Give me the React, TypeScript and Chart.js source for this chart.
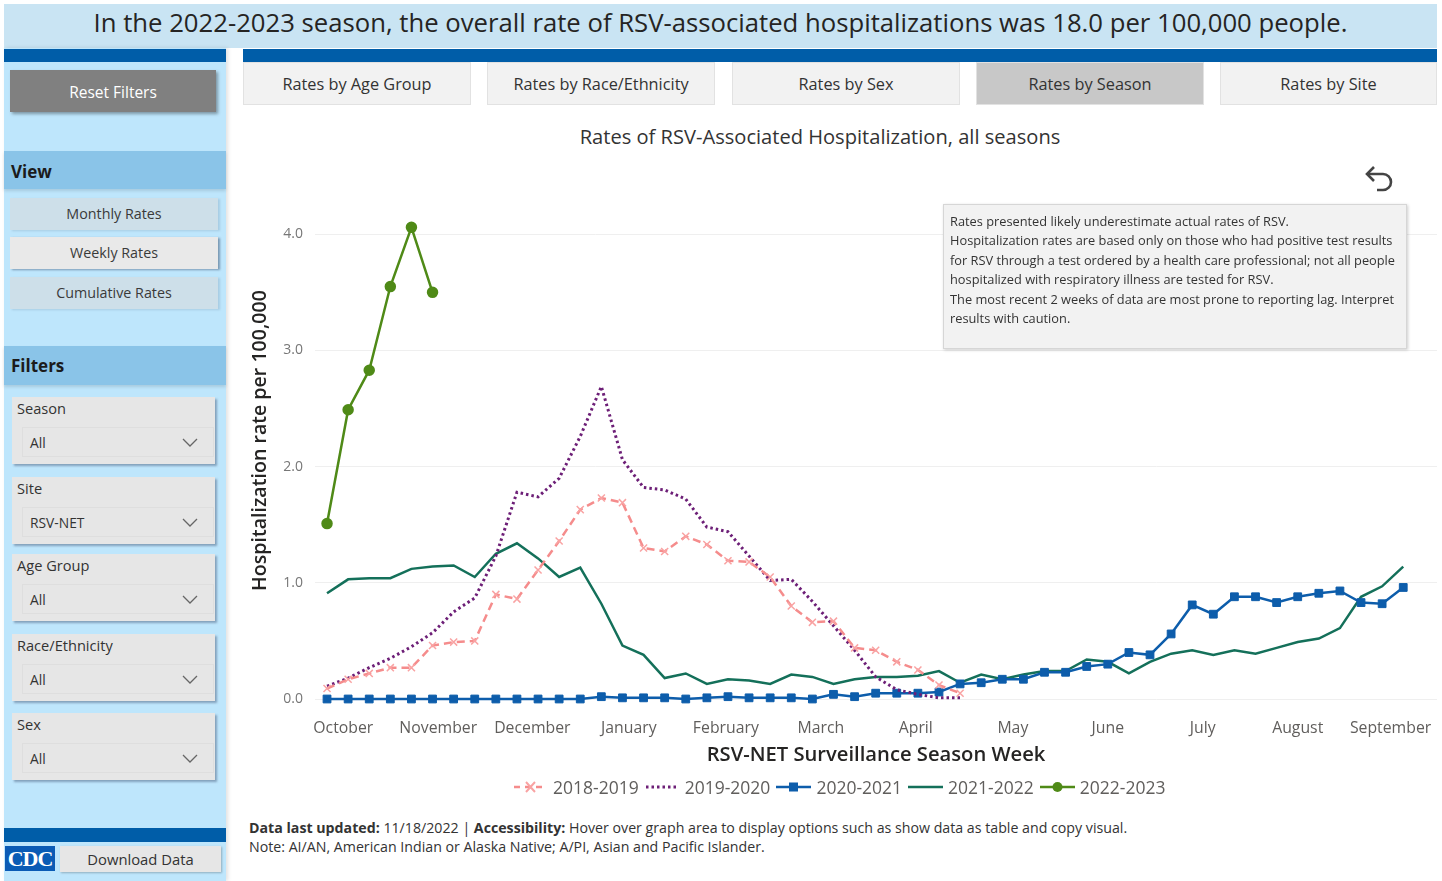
import React, { useEffect, useRef } from "react";
import { Chart, registerables } from "chart.js";

Chart.register(...registerables);

const FONT = "'Open Sans', 'Noto Sans', sans-serif";

// Season week index (1 = first surveillance week of October)
const seasonWeeks = Array.from({ length: 52 }, (_, i) => i + 1);

const monthLabels = [
  "October", "November", "December", "January", "February", "March",
  "April", "May", "June", "July", "August", "September",
];
// position of each month label, in season-week units
const monthTickWeeks = [1.77, 6.27, 10.73, 15.3, 19.9, 24.4, 28.9, 33.5, 38.0, 42.5, 47.0, 51.4];
const yTickValues = [0, 1, 2, 3, 4];

const seasonNames = ["2018-2019", "2019-2020", "2020-2021", "2021-2022", "2022-2023"];

const rates2018_19 = [
  0.09, 0.17, 0.22, 0.27, 0.27, 0.46, 0.49, 0.50, 0.90, 0.86, 1.11, 1.36, 1.63, 1.73, 1.69,
  1.30, 1.27, 1.40, 1.33, 1.19, 1.18, 1.05, 0.80, 0.66, 0.67, 0.44, 0.42, 0.32, 0.25, 0.12, 0.05,
];
const rates2019_20 = [
  0.11, 0.18, 0.27, 0.35, 0.45, 0.57, 0.75, 0.87, 1.23, 1.78, 1.74, 1.90, 2.26, 2.69, 2.06,
  1.82, 1.80, 1.72, 1.48, 1.44, 1.23, 1.02, 1.03, 0.84, 0.63, 0.42, 0.19, 0.08, 0.04, 0.01, 0.01,
];
const rates2020_21 = [
  0.00, 0.00, 0.00, 0.00, 0.00, 0.00, 0.00, 0.00, 0.00, 0.00, 0.00, 0.00, 0.00, 0.02, 0.01,
  0.01, 0.01, 0.00, 0.01, 0.02, 0.01, 0.01, 0.01, 0.00, 0.04, 0.02, 0.05, 0.05, 0.05, 0.06,
  0.13, 0.14, 0.17, 0.17, 0.23, 0.23, 0.28, 0.30, 0.40, 0.38, 0.56, 0.81, 0.73, 0.88, 0.88,
  0.83, 0.88, 0.91, 0.93, 0.83, 0.82, 0.96,
];
const rates2021_22 = [
  0.91, 1.03, 1.04, 1.04, 1.12, 1.14, 1.15, 1.05, 1.25, 1.34, 1.21, 1.05, 1.13, 0.82, 0.46,
  0.38, 0.18, 0.22, 0.13, 0.17, 0.16, 0.13, 0.21, 0.19, 0.13, 0.17, 0.19, 0.19, 0.20, 0.24,
  0.14, 0.21, 0.17, 0.21, 0.24, 0.24, 0.34, 0.32, 0.22, 0.32, 0.39, 0.42, 0.38, 0.42, 0.39,
  0.44, 0.49, 0.52, 0.61, 0.88, 0.97, 1.14,
];
const rates2022_23 = [1.51, 2.49, 2.83, 3.55, 4.06, 3.50];

const seriesColors = ["#f58c8c", "#6d1f77", "#0d5dab", "#14705a", "#4f8a17"];

const tabs = ["Rates by Age Group", "Rates by Race/Ethnicity", "Rates by Sex", "Rates by Season", "Rates by Site"];
const viewButtons = ["Monthly Rates", "Weekly Rates", "Cumulative Rates"];
const filterNames = ["Season", "Site", "Age Group", "Race/Ethnicity", "Sex"];
const filterValues = ["All", "RSV-NET", "All", "All", "All"];

const noteLines = [
  "Rates presented likely underestimate actual rates of RSV.",
  "Hospitalization rates are based only on those who had positive test results",
  "for RSV through a test ordered by a health care professional; not all people",
  "hospitalized with respiratory illness are tested for RSV.",
  "The most recent 2 weeks of data are most prone to reporting lag. Interpret",
  "results with caution.",
];

function RsvChart() {
  const ref = useRef<HTMLCanvasElement | null>(null);
  useEffect(() => {
    if (!ref.current) return;
    const chart = new Chart(ref.current, {
      type: "line",
      data: {
        labels: seasonWeeks,
        datasets: [
          {
            label: seasonNames[0], data: rates2018_19, borderColor: seriesColors[0],
            borderWidth: 2.5, borderDash: [8, 5], pointStyle: "crossRot", pointRadius: 5,
            pointBorderColor: "#f9a3a3", pointBorderWidth: 1.5, pointBackgroundColor: "#f9a3a3",
            clip: false, tension: 0,
          },
          {
            label: seasonNames[1], data: rates2019_20, borderColor: seriesColors[1],
            borderWidth: 3, borderDash: [2.5, 3], pointRadius: 0, clip: false, tension: 0,
          },
          {
            label: seasonNames[2], data: rates2020_21, borderColor: seriesColors[2],
            borderWidth: 2.5, pointStyle: "rect", pointRadius: 5.5,
            pointBackgroundColor: seriesColors[2], pointBorderColor: seriesColors[2],
            pointBorderWidth: 1, clip: false, tension: 0,
          },
          {
            label: seasonNames[3], data: rates2021_22, borderColor: seriesColors[3],
            borderWidth: 2.5, pointRadius: 0, clip: false, tension: 0,
          },
          {
            label: seasonNames[4], data: rates2022_23, borderColor: seriesColors[4],
            borderWidth: 2.5, pointStyle: "circle", pointRadius: 4.5,
            pointBackgroundColor: seriesColors[4], pointBorderColor: seriesColors[4],
            clip: false, tension: 0,
          },
        ],
      },
      options: {
        animation: false,
        responsive: false,
        maintainAspectRatio: false,
        layout: { autoPadding: false, padding: { top: 22, left: 0, right: 0, bottom: 0 } },
        plugins: { legend: { display: false }, tooltip: { enabled: false }, title: { display: false } },
        scales: {
          x: {
            type: "linear",
            min: 0.43,
            max: 53.6,
            grid: { display: false, drawTicks: true, tickLength: 20 },
            border: { display: false },
            afterBuildTicks: (scale: any) => {
              scale.ticks = monthTickWeeks.map((v) => ({ value: v }));
            },
            afterFit: (scale: any) => {
              scale.height = 81;
              scale.paddingLeft = 0;
              scale.paddingRight = 0;
            },
            ticks: {
              autoSkip: false,
              maxRotation: 0,
              padding: 0,
              color: "#605e5c",
              font: { family: FONT, size: 15.8 },
              callback: (_v: any, i: number) => monthLabels[i],
            },
            title: {
              display: true,
              text: "RSV-NET Surveillance Season Week",
              color: "#252423",
              font: { family: FONT, size: 20.2, weight: "600" },
              padding: { top: 4, bottom: 13 },
            },
          },
          y: {
            min: 0,
            max: 4.45,
            grid: { color: "#efefef", lineWidth: 1, drawTicks: false },
            border: { display: false },
            afterBuildTicks: (scale: any) => {
              scale.ticks = yTickValues.map((v) => ({ value: v }));
            },
            afterFit: (scale: any) => {
              scale.width = 72;
            },
            ticks: {
              padding: 12,
              color: "#777777",
              font: { family: FONT, size: 14 },
              callback: (v: any) => Number(v).toFixed(1),
            },
            title: {
              display: true,
              text: "Hospitalization rate per 100,000",
              color: "#252423",
              font: { family: FONT, size: 19.6, weight: "600" },
              padding: { top: 6, bottom: 4 },
            },
          },
        },
      },
    });
    return () => chart.destroy();
  }, []);
  return (
    <canvas
      ref={ref}
      width={1194}
      height={620}
      style={{ position: "absolute", left: 243, top: 160, width: 1194, height: 620 }}
    />
  );
}

function LegendSymbol({ idx }: { idx: number }) {
  const c = seriesColors[idx];
  const w = 35;
  const h = 14;
  const y = 7;
  if (idx === 0)
    return (
      <svg width={w} height={h}>
        <line x1={1} y1={y} x2={34} y2={y} stroke={c} strokeWidth={2.5} strokeDasharray="6 5" />
        <path d="M13 2 L22 12 M22 2 L13 12" stroke="#f9a3a3" strokeWidth={2} />
      </svg>
    );
  if (idx === 1)
    return (
      <svg width={w} height={h}>
        <line x1={1} y1={y} x2={34} y2={y} stroke={c} strokeWidth={3} strokeDasharray="2.5 3" />
      </svg>
    );
  if (idx === 2)
    return (
      <svg width={w} height={h}>
        <line x1={0} y1={y} x2={35} y2={y} stroke={c} strokeWidth={2.5} />
        <rect x={13} y={2.5} width={9} height={9} fill={c} />
      </svg>
    );
  if (idx === 3)
    return (
      <svg width={w} height={h}>
        <line x1={0} y1={y} x2={35} y2={y} stroke={c} strokeWidth={2.5} />
      </svg>
    );
  return (
    <svg width={w} height={h}>
      <line x1={0} y1={y} x2={35} y2={y} stroke={c} strokeWidth={2.5} />
      <circle cx={17.5} cy={y} r={5} fill={c} />
    </svg>
  );
}

function Chevron({ x, y }: { x: number; y: number }) {
  return (
    <svg width={16} height={10} style={{ position: "absolute", left: x, top: y }}>
      <path d="M1 1 L8 8 L15 1" fill="none" stroke="#666" strokeWidth={1.3} />
    </svg>
  );
}

export default function App() {
  const filterTops = [397, 477, 554, 634, 713];
  const viewTops = [198, 237, 277];
  const tabLefts = [243, 487, 732, 976, 1220];
  return (
    <div
      style={{
        position: "absolute", left: 0, top: 0, width: 1442, height: 881, background: "#ffffff",
        fontFamily: FONT, overflow: "hidden", color: "#252423",
      }}
    >
      {/* header */}
      <div
        style={{
          position: "absolute", left: 4, top: 4, width: 1433, height: 44, background: "#c9e4f3",
          fontSize: 25.7, lineHeight: "38px", textAlign: "center", color: "#252423", whiteSpace: "nowrap",
        }}
      >
        In the 2022-2023 season, the overall rate of RSV-associated hospitalizations was 18.0 per 100,000 people.
      </div>

      {/* sidebar */}
      <div style={{ position: "absolute", left: 4, top: 48, width: 222, height: 833, background: "#bee6fc", boxShadow: "2px 0 4px rgba(0,0,0,0.12)" }} />
      <div style={{ position: "absolute", left: 4, top: 49, width: 222, height: 13, background: "#005da8" }} />
      <div
        style={{
          position: "absolute", left: 10, top: 70, width: 206, height: 42, background: "#808080",
          color: "#fff", fontSize: 15.5, lineHeight: "44px", textAlign: "center",
          boxShadow: "2px 2px 3px rgba(0,0,0,0.35)",
        }}
      >
        Reset Filters
      </div>
      <div style={{ position: "absolute", left: 4, top: 151, width: 222, height: 38, background: "#8ac4e8", boxShadow: "0 2px 3px rgba(0,0,0,0.12)" }} />
      <div style={{ position: "absolute", left: 11, top: 160, fontSize: 17, fontWeight: 700, color: "#1b1b1b" }}>View</div>
      {viewButtons.map((b, i) => (
        <div
          key={b}
          style={{
            position: "absolute", left: 10, top: viewTops[i], width: 208, height: 32,
            background: i === 1 ? "#e9e9e9" : "#cddfe9", color: "#3a3a3a", fontSize: 14.3,
            lineHeight: "32px", textAlign: "center",
            boxShadow: i === 1 ? "2px 1px 2px rgba(40,60,90,0.45)" : "2px 1px 2px rgba(40,60,90,0.15)",
          }}
        >
          {b}
        </div>
      ))}
      <div style={{ position: "absolute", left: 4, top: 346, width: 222, height: 39, background: "#8ac4e8", boxShadow: "0 2px 3px rgba(0,0,0,0.12)" }} />
      <div style={{ position: "absolute", left: 11, top: 354, fontSize: 17, fontWeight: 700, color: "#1b1b1b" }}>Filters</div>
      {filterNames.map((f, i) => (
        <div
          key={f}
          style={{
            position: "absolute", left: 12, top: filterTops[i], width: 203, height: 67,
            background: "#e6e6e6", boxShadow: "2px 2px 2px rgba(60,80,110,0.45)",
          }}
        >
          <div style={{ position: "absolute", left: 5, top: 1, fontSize: 14.6, color: "#333" }}>{f}</div>
          <div
            style={{
              position: "absolute", left: 10, top: 30, width: 192, height: 30,
              border: "1px solid #dedede", boxSizing: "border-box",
            }}
          />
          <div style={{ position: "absolute", left: 18, top: 36, fontSize: 13.8, color: "#333" }}>{filterValues[i]}</div>
          <Chevron x={170} y={41} />
        </div>
      ))}
      <div style={{ position: "absolute", left: 4, top: 828, width: 222, height: 14, background: "#005da8" }} />
      <div
        style={{
          position: "absolute", left: 5, top: 846, width: 50, height: 25, background: "#0a5bb5",
          color: "#fff", fontFamily: "'Liberation Serif', serif", fontWeight: 700, fontSize: 22,
          lineHeight: "26px", textAlign: "center", letterSpacing: -1,
        }}
      >
        CDC
      </div>
      <div
        style={{
          position: "absolute", left: 60, top: 846, width: 161, height: 26, background: "#e6e6e6",
          color: "#333", fontSize: 14.8, lineHeight: "26px", textAlign: "center",
          boxShadow: "1px 1px 2px rgba(0,0,0,0.25)",
        }}
      >
        Download Data
      </div>

      {/* main dark bar */}
      <div style={{ position: "absolute", left: 243, top: 49, width: 1194, height: 13, background: "#005da8" }} />
      {tabs.map((t, i) => (
        <div
          key={t}
          style={{
            position: "absolute", left: tabLefts[i], top: 62, width: i === 4 ? 217 : 228, height: 43,
            background: i === 3 ? "#c8c8c8" : "#f2f2f2", border: "1px solid #e2e2e2", boxSizing: "border-box",
            color: "#333", fontSize: 16.3, lineHeight: "42px", textAlign: "center",
          }}
        >
          {t}
        </div>
      ))}

      <div
        style={{
          position: "absolute", left: 243, top: 123, width: 1154, textAlign: "center",
          fontSize: 20.1, color: "#333", whiteSpace: "nowrap",
        }}
      >
        Rates of RSV-Associated Hospitalization, all seasons
      </div>

      <RsvChart />

      {/* undo icon */}
      <svg width={36} height={36} style={{ position: "absolute", left: 1362, top: 163 }}>
        <path d="M6 11 H21 A8 8 0 0 1 21 27 H15" fill="none" stroke="#444" strokeWidth={2.6} />
        <path d="M12 4 L5 11 L12 18" fill="none" stroke="#444" strokeWidth={2.6} />
      </svg>

      {/* note box */}
      <div
        style={{
          position: "absolute", left: 943, top: 204, width: 464, height: 145, background: "#f2f2f2",
          border: "1px solid #d6d6d6", boxSizing: "border-box", boxShadow: "1px 1px 3px rgba(0,0,0,0.2)",
          padding: "7px 6px", fontSize: 12.8, lineHeight: "19.4px", color: "#333",
        }}
      >
        {noteLines.map((l) => (
          <div key={l} style={{ whiteSpace: "nowrap" }}>{l}</div>
        ))}
      </div>

      {/* legend */}
      <div
        style={{
          position: "absolute", left: 513, top: 775, display: "flex", alignItems: "center",
          fontSize: 17.5, color: "#605e5c", whiteSpace: "nowrap",
        }}
      >
        {seasonNames.map((s, i) => (
          <div key={s} style={{ display: "flex", alignItems: "center", marginRight: 6 }}>
            <LegendSymbol idx={i} />
            <span style={{ marginLeft: 5 }}>{s}</span>
          </div>
        ))}
      </div>

      {/* footer */}
      <div style={{ position: "absolute", left: 249, top: 818, fontSize: 14.2, color: "#333", lineHeight: "19px", whiteSpace: "nowrap" }}>
        <div>
          <b>Data last updated:</b> 11/18/2022 | <b>Accessibility:</b> Hover over graph area to display options such as show data as table and copy visual.
        </div>
        <div>Note: AI/AN, American Indian or Alaska Native; A/PI, Asian and Pacific Islander.</div>
      </div>
    </div>
  );
}
